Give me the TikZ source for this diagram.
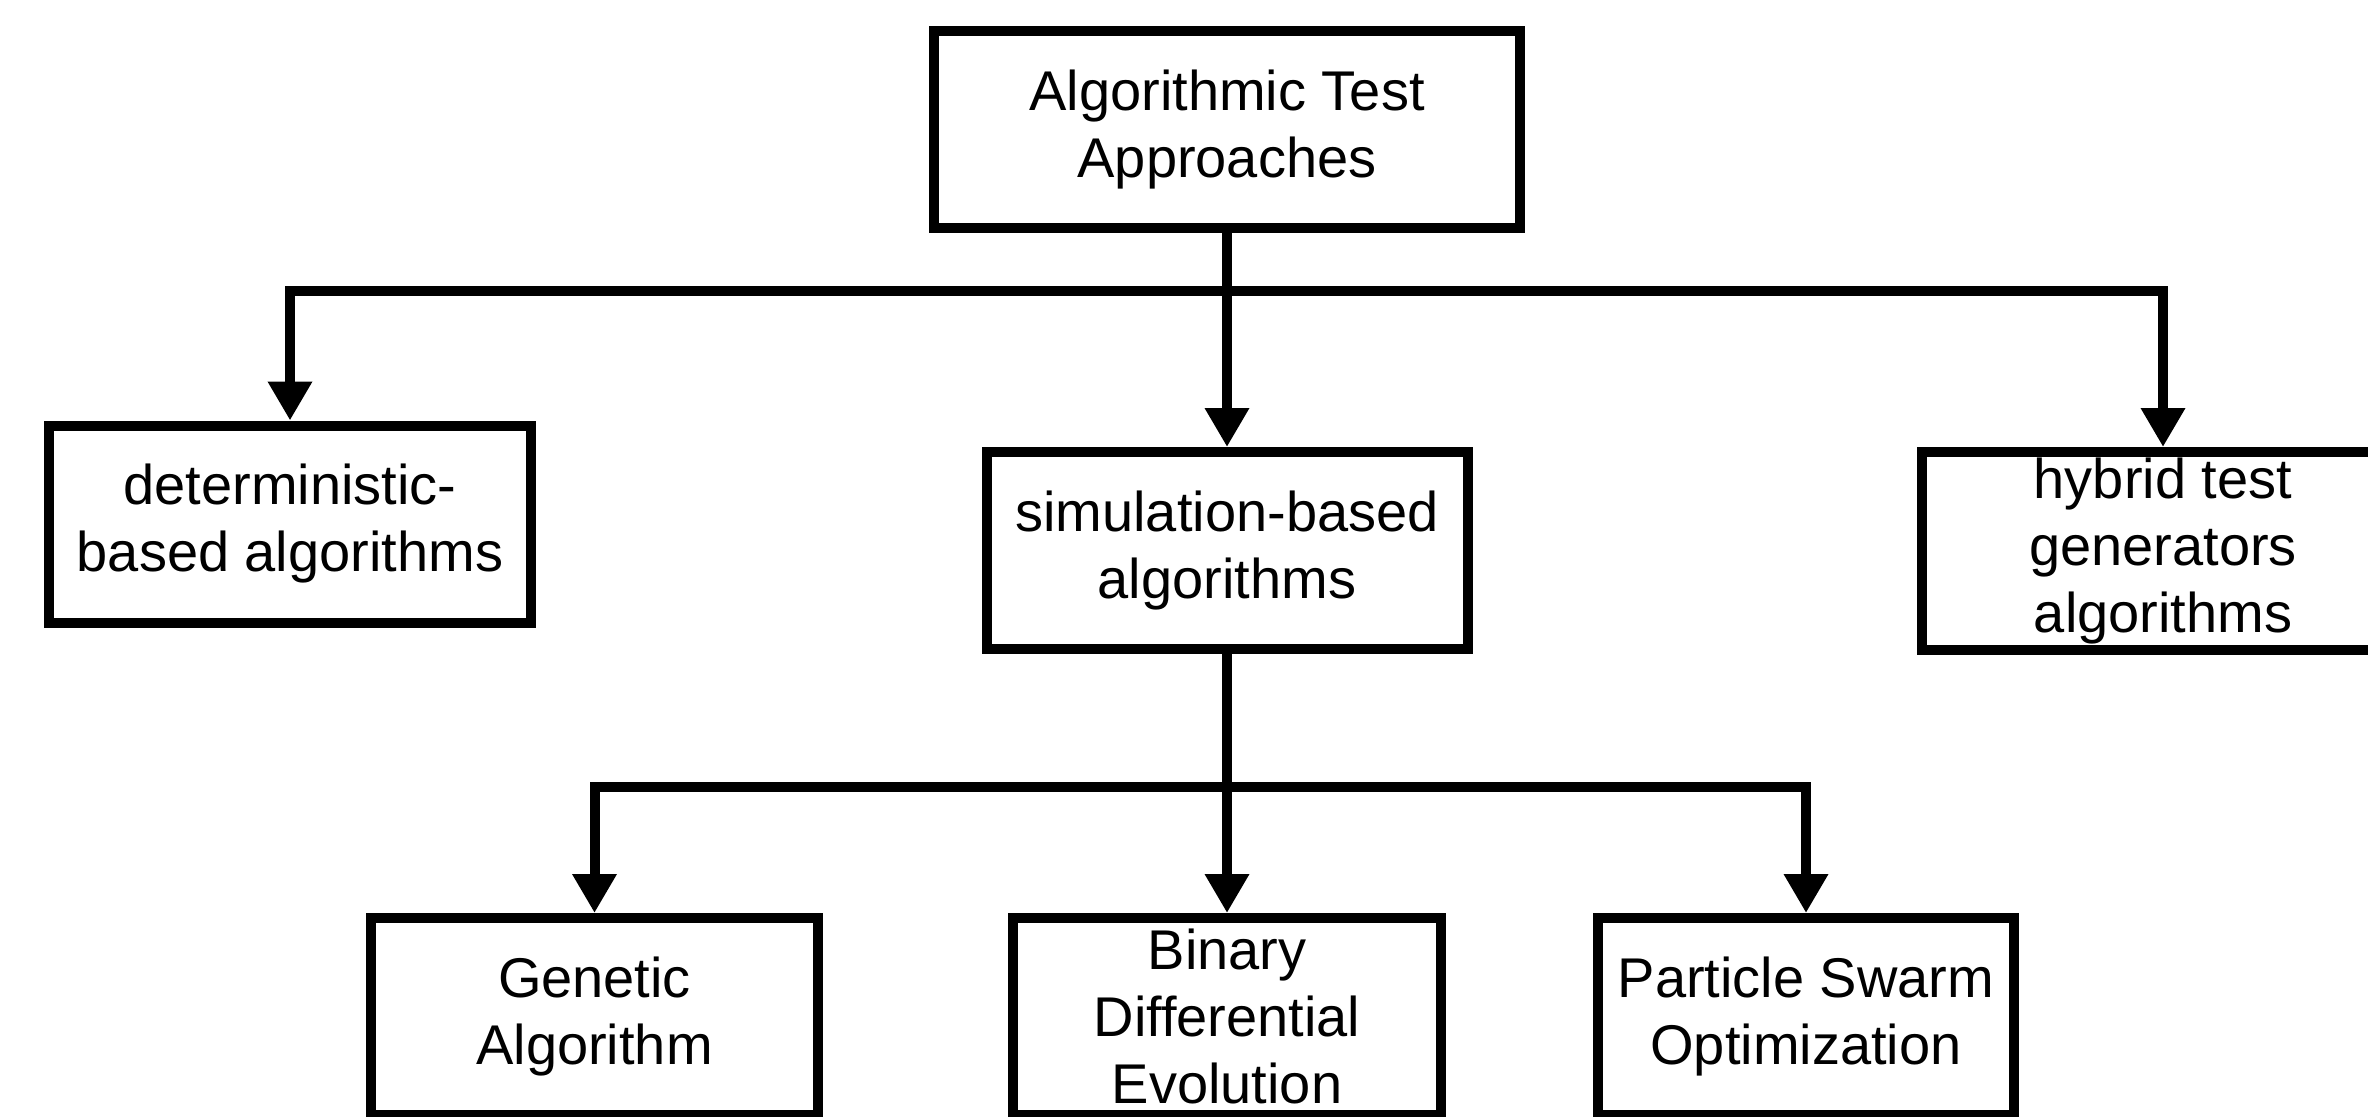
\documentclass[tikz,border=0pt]{standalone}
\usepackage{fontspec}
\setmainfont{Liberation Sans}
\usetikzlibrary{arrows.meta}
\tikzset{
  box/.style={draw, line width=10pt, inner sep=0pt, align=center,
    font=\fontsize{56}{67}\selectfont, minimum height=197pt},
  conn/.style={line width=10pt},
  arr/.style={conn, -{Triangle[length=39pt,width=42pt]}}
}
\begin{document}
\begin{tikzpicture}[x=1pt,y=-1pt]
\clip (0,0) rectangle (2368,1116);
\fill[white] (0,0) rectangle (2368,1116);
% nodes
\node[box, minimum width=586pt] (top) at (1227,129.5) {Algorithmic Test\\Approaches};
\node[box, minimum width=482pt] (det) at (290,524) {deterministic-\\based algorithms};
\node[box, minimum width=481pt] (sim) at (1227,550.5) {simulation-based\\algorithms};
\node[box, minimum width=482pt, minimum height=198pt] (hyb) at (2163,551) {hybrid test\\generators\\algorithms};
\node[box, minimum width=447pt] (gen) at (594.5,1016.5) {Genetic\\Algorithm};
\node[box, minimum width=428pt] (bde) at (1227,1016.5) {Binary\\Differential\\Evolution};
\node[box, minimum width=416pt] (pso) at (1806,1016.5) {Particle Swarm\\Optimization};
% bus points
\coordinate (busU) at (1227,291);
\coordinate (busL) at (1227,787);
% connectors
\draw[arr] (top.south) -- (sim.north);
\draw[arr] (busU) -| (det.north);
\draw[arr] (busU) -| (hyb.north);
\draw[arr] (sim.south) -- (bde.north);
\draw[arr] (busL) -| (gen.north);
\draw[arr] (busL) -| (pso.north);
\end{tikzpicture}
\end{document}
